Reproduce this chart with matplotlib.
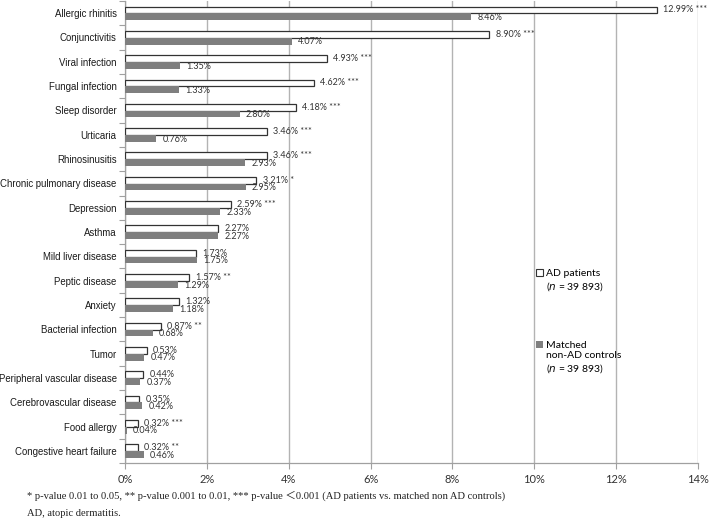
import matplotlib
matplotlib.use('Agg')
import matplotlib.pyplot as plt
import numpy as np
from matplotlib.patches import Patch

# comorbidity prevalence (%), top to bottom as in the figure
categories = ['Allergic rhinitis', 'Conjunctivitis', 'Viral infection', 'Fungal infection',
              'Sleep disorder', 'Urticaria', 'Rhinosinusitis', 'Chronic pulmonary disease',
              'Depression', 'Asthma', 'Mild liver disease', 'Peptic disease', 'Anxiety',
              'Bacterial infection', 'Tumor', 'Peripheral vascular disease',
              'Cerebrovascular disease', 'Food allergy', 'Congestive heart failure']
ad_pct = [12.99, 8.90, 4.93, 4.62, 4.18, 3.46, 3.46, 3.21, 2.59, 2.27, 1.73, 1.57, 1.32,
          0.87, 0.53, 0.44, 0.35, 0.32, 0.32]
ctrl_pct = [8.46, 4.07, 1.35, 1.33, 2.80, 0.76, 2.93, 2.95, 2.33, 2.27, 1.75, 1.29, 1.18,
            0.68, 0.47, 0.37, 0.42, 0.04, 0.46]
sig = ['***', '***', '***', '***', '***', '***', '***', '*', '***', '', '', '**', '',
       '**', '', '', '', '***', '**']
xticks = [0, 2, 4, 6, 8, 10, 12, 14]

lbl_font = 'Liberation Sans'
val_font = 'Lato'

fig = plt.figure(figsize=(7.09, 5.29), dpi=100)
ax = fig.add_axes([125/709, 1 - 463/529, 573/709, 462/529])

y = np.arange(len(categories))
h = 0.28
ax.barh(y - 0.13, ad_pct, height=h, color='white', edgecolor='#333333', linewidth=0.9, zorder=3)
ax.barh(y + 0.15, ctrl_pct, height=h, color='#7f7f7f', edgecolor='none', zorder=3)

# value labels
for i in range(len(categories)):
    t = '%.2f%%' % ad_pct[i]
    if sig[i]:
        t += ' ' + sig[i]
    ax.annotate(t, (ad_pct[i], y[i] - 0.13), xytext=(4.5, 0), textcoords='offset points',
                va='center', ha='left', fontsize=6.5, family=val_font, color='#333333')
    ax.annotate('%.2f%%' % ctrl_pct[i], (ctrl_pct[i], y[i] + 0.18), xytext=(4.5, 0),
                textcoords='offset points', va='center', ha='left', fontsize=6.5,
                family=val_font, color='#333333')

ax.set_xlim(0, 14)
ax.set_ylim(len(categories) - 0.5, -0.5)
ax.set_xticks(xticks)
ax.set_xticklabels(['%d%%' % v for v in xticks], family=val_font, fontsize=8, color='#333333')
ax.set_yticks(y)
ax.set_yticklabels(categories, family=lbl_font, fontsize=6.9, color='#1a1a1a')
ax.set_yticks(np.arange(len(categories) + 1) - 0.5, minor=True)
ax.tick_params(axis='y', which='major', length=0, pad=6)
ax.tick_params(axis='y', which='minor', length=4, color='#a0a0a0', width=0.8)
ax.tick_params(axis='x', length=4, color='#a0a0a0', width=0.8, pad=4)
ax.grid(axis='x', color='#b3b3b3', linewidth=1, zorder=0)
for s in ['top', 'right']:
    ax.spines[s].set_visible(False)
for s in ['left', 'bottom']:
    ax.spines[s].set_color('#a0a0a0')
    ax.spines[s].set_linewidth(0.9)

handles = [Patch(facecolor='white', edgecolor='#333333', linewidth=0.8),
           Patch(facecolor='#7f7f7f', edgecolor='none')]
labels = ['AD patients\n($\\it{n}$ = 39 893)', 'Matched\nnon-AD controls\n($\\it{n}$ = 39 893)']
leg = ax.legend(handles, labels, loc='upper left', bbox_to_anchor=(10.05/14, 1 - 268/462),
                frameon=False, handlelength=0.65, handleheight=0.65,
                handletextpad=0.3, labelspacing=4.6, borderaxespad=0, borderpad=0,
                prop={'family': val_font, 'size': 7.5})
# put the square next to the first line of each label
for col in leg._legend_handle_box.get_children():
    for row in col.get_children():
        row.align = 'top'

fig.text(27/709, 1 - 496/529,
         '* p-value 0.01 to 0.05, ** p-value 0.001 to 0.01, *** p-value \uff1c0.001 (AD patients vs. matched non AD controls)',
         family=['Liberation Serif', 'Noto Sans CJK SC'], fontsize=7.6, va='center', color='#222222')
fig.text(27/709, 1 - 514/529, 'AD, atopic dermatitis.',
         family=['Liberation Serif', 'Noto Sans CJK SC'], fontsize=7.6, va='center', color='#222222')

fig.savefig('out.png', dpi=100)
